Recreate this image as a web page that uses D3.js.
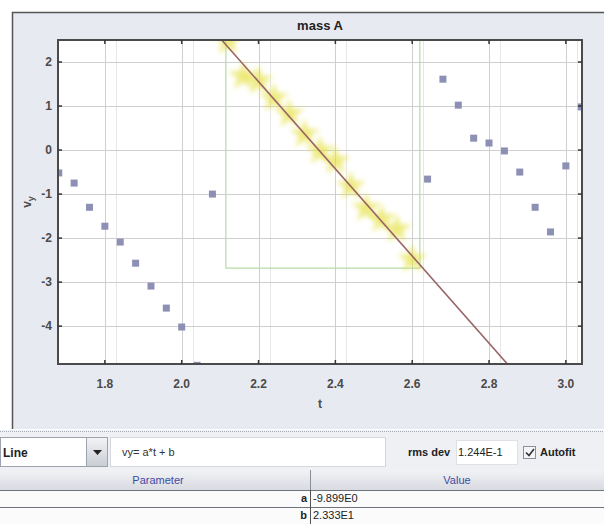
<!DOCTYPE html>
<html>
<head>
<meta charset="utf-8">
<script src="https://cdn.jsdelivr.net/npm/d3@7"></script>
<style>
  body { margin: 0; background: #fff; }
  svg { display: block; font-family: "Liberation Sans", Arial, sans-serif; }
</style>
</head>
<body>
<svg id="chart" width="604" height="524"></svg>
<script>
// points outside the fit window (left and right of it)
var tLeft  = [1.68, 1.72, 1.76, 1.80, 1.84, 1.88, 1.92, 1.96, 2.00, 2.04, 2.08];
var vyLeft = [-0.52, -0.75, -1.30, -1.73, -2.09, -2.57, -3.09, -3.59, -4.02, -4.89, -1.00];
var tRight  = [2.64, 2.68, 2.72, 2.76, 2.80, 2.84, 2.88, 2.92, 2.96, 3.00, 3.04];
var vyRight = [-0.66, 1.61, 1.02, 0.27, 0.16, -0.02, -0.50, -1.30, -1.86, -0.36, 0.98];
// points used in the fit
var tFit  = [2.12, 2.16, 2.20, 2.24, 2.28, 2.32, 2.36, 2.40, 2.44, 2.48, 2.52, 2.56, 2.60];
var vyFit = [2.48, 1.68, 1.57, 1.18, 0.82, 0.36, -0.02, -0.25, -0.82, -1.32, -1.57, -1.80, -2.48];
// selection box
var selT  = [2.115, 2.62];
var selVy = [-2.68, 2.5];
// fit result
var fitA = -9.899, fitB = 23.33;
var rmsText = "1.244E-1";
var paramNames  = ["a", "b"];
var paramValues = ["-9.899E0", "2.333E1"];

var xTicks = [1.8, 2.0, 2.2, 2.4, 2.6, 2.8, 3.0];
var yTicks = [-4, -3, -2, -1, 0, 1, 2];
var xDomain = [1.678, 3.042];
var yDomain = [-4.86, 2.5];

var plot = {left: 58, top: 40, right: 582, bottom: 364};

var svg = d3.select("#chart");
var defs = svg.append("defs");

defs.append("clipPath").attr("id", "clip")
    .append("rect")
    .attr("x", plot.left).attr("y", plot.top)
    .attr("width", plot.right - plot.left).attr("height", plot.bottom - plot.top);

defs.append("filter").attr("id", "blur").attr("x", "-50%").attr("y", "-50%").attr("width", "200%").attr("height", "200%")
    .append("feGaussianBlur").attr("stdDeviation", 2.8);
defs.append("filter").attr("id", "soft")
    .append("feGaussianBlur").attr("stdDeviation", 0.6);

var grad = defs.append("linearGradient").attr("id", "btn").attr("x1", 0).attr("y1", 0).attr("x2", 0).attr("y2", 1);
grad.append("stop").attr("offset", "0%").attr("stop-color", "#f4f4f6");
grad.append("stop").attr("offset", "100%").attr("stop-color", "#c9ccd4");

var x = d3.scaleLinear().domain(xDomain).range([plot.left, plot.right]);
var y = d3.scaleLinear().domain(yDomain).range([plot.bottom, plot.top]);

// outer panel
svg.append("rect")
    .attr("x", 12).attr("y", 12).attr("width", 592).attr("height", 417)
    .attr("fill", "#e8eaf1");
svg.append("path")
    .attr("d", "M12.5,429V12.5H604")
    .attr("fill", "none").attr("stroke", "#555").attr("stroke-width", 1.5);

svg.append("text")
    .attr("x", (plot.left + plot.right) / 2).attr("y", 30)
    .attr("text-anchor", "middle")
    .attr("font-size", "13px").attr("font-weight", "bold").attr("fill", "#222")
    .text("mass A");

// plot background
svg.append("rect")
    .attr("x", plot.left).attr("y", plot.top)
    .attr("width", plot.right - plot.left).attr("height", plot.bottom - plot.top)
    .attr("fill", "#fff");

var g = svg.append("g").attr("clip-path", "url(#clip)");

// grid (with the faint ghost lines the screenshot shows next to each vertical one)
g.selectAll(".ghost").data(xTicks).enter().append("line")
    .attr("x1", function(d) { return Math.round(x(d)) + 11.5; })
    .attr("x2", function(d) { return Math.round(x(d)) + 11.5; })
    .attr("y1", plot.top).attr("y2", plot.bottom)
    .attr("stroke", "#e6e6e8");
g.selectAll(".gx").data(xTicks).enter().append("line")
    .attr("x1", function(d) { return Math.round(x(d)) + 0.5; })
    .attr("x2", function(d) { return Math.round(x(d)) + 0.5; })
    .attr("y1", plot.top).attr("y2", plot.bottom)
    .attr("stroke", "#cfcfd2");
g.selectAll(".gy").data(yTicks).enter().append("line")
    .attr("y1", function(d) { return Math.round(y(d)) + 0.5; })
    .attr("y2", function(d) { return Math.round(y(d)) + 0.5; })
    .attr("x1", plot.left).attr("x2", plot.right)
    .attr("stroke", "#cfcfd2");

// selection box
g.append("path")
    .attr("d", "M" + x(selT[0]) + "," + y(selVy[1]) + "V" + y(selVy[0]) + "H" + x(selT[1]) + "V" + y(selVy[1]))
    .attr("fill", "none").attr("stroke", "#b5dca8").attr("stroke-width", 1.2);

// outside points
var outside = tLeft.map(function(t, i) { return [t, vyLeft[i]]; })
    .concat(tRight.map(function(t, i) { return [t, vyRight[i]]; }));
g.selectAll(".pt").data(outside).enter().append("rect")
    .attr("x", function(d) { return x(d[0]) - 3.5; })
    .attr("y", function(d) { return y(d[1]) - 3.5; })
    .attr("width", 7).attr("height", 7)
    .attr("fill", "#8d90b4")
    .attr("filter", "url(#soft)");

// fitted points: blurry yellow stars
var star = d3.symbol().type(d3.symbolStar).size(280);
g.selectAll(".fit").data(tFit).enter().append("path")
    .attr("d", star)
    .attr("transform", function(d, i) { return "translate(" + x(d) + "," + y(vyFit[i]) + ")"; })
    .attr("fill", "#e4e03c").attr("opacity", 0.65)
    .attr("filter", "url(#blur)");

// fit line vy = a*t + b
g.append("line")
    .attr("x1", x(xDomain[0])).attr("y1", y(fitA * xDomain[0] + fitB))
    .attr("x2", x(xDomain[1])).attr("y2", y(fitA * xDomain[1] + fitB))
    .attr("stroke", "#9a6466").attr("stroke-width", 1.6);

// frame + inner ticks on all sides
svg.append("rect")
    .attr("x", plot.left).attr("y", plot.top)
    .attr("width", plot.right - plot.left).attr("height", plot.bottom - plot.top)
    .attr("fill", "none").attr("stroke", "#4a4a4a").attr("stroke-width", 2);

var tk = svg.append("g").attr("stroke", "#333").attr("stroke-width", 1.5);
xTicks.forEach(function(d) {
    tk.append("line").attr("x1", x(d)).attr("x2", x(d)).attr("y1", plot.bottom).attr("y2", plot.bottom - 4);
    tk.append("line").attr("x1", x(d)).attr("x2", x(d)).attr("y1", plot.top).attr("y2", plot.top + 4);
});
yTicks.forEach(function(d) {
    tk.append("line").attr("y1", y(d)).attr("y2", y(d)).attr("x1", plot.left).attr("x2", plot.left + 4);
    tk.append("line").attr("y1", y(d)).attr("y2", y(d)).attr("x1", plot.right).attr("x2", plot.right - 4);
});

svg.selectAll(".xl").data(xTicks).enter().append("text")
    .attr("x", function(d) { return x(d); }).attr("y", 388)
    .attr("text-anchor", "middle")
    .attr("font-size", "12px").attr("font-weight", "bold").attr("fill", "#4a4a4a")
    .text(d3.format(".1f"));
svg.selectAll(".yl").data(yTicks).enter().append("text")
    .attr("x", 52).attr("y", function(d) { return y(d); }).attr("dy", "0.35em")
    .attr("text-anchor", "end")
    .attr("font-size", "12px").attr("font-weight", "bold").attr("fill", "#4a4a4a")
    .text(function(d) { return d; });

svg.append("text")
    .attr("x", (plot.left + plot.right) / 2).attr("y", 408)
    .attr("text-anchor", "middle")
    .attr("font-size", "12px").attr("font-weight", "bold").attr("fill", "#4a4a4a")
    .text("t");

var ylab = svg.append("text")
    .attr("transform", "translate(31," + (plot.top + plot.bottom) / 2 + ") rotate(-90)")
    .attr("text-anchor", "middle")
    .attr("font-size", "12px").attr("font-weight", "bold").attr("fill", "#4a4a4a");
ylab.append("tspan").text("v");
ylab.append("tspan").attr("font-size", "9px").attr("dy", 3).text("y");

// lower control strip
svg.append("rect").attr("x", 0).attr("y", 430).attr("width", 604).attr("height", 94).attr("fill", "#eef0f4");
svg.append("line")
    .attr("x1", 0).attr("x2", 604).attr("y1", 431.5).attr("y2", 431.5)
    .attr("stroke", "#a8acb8").attr("stroke-dasharray", "1,1");

var ctl = svg.append("g").attr("font-size", "11px").attr("fill", "#222");
ctl.append("rect").attr("x", 0.5).attr("y", 437.5).attr("width", 86).attr("height", 29)
    .attr("fill", "#fff").attr("stroke", "#9ca2b0");
ctl.append("text").attr("x", 3).attr("y", 457).attr("font-weight", "bold").attr("font-size", "12px").text("Line");
ctl.append("rect").attr("x", 86.5).attr("y", 437.5).attr("width", 21).attr("height", 29)
    .attr("fill", "url(#btn)").attr("stroke", "#9ca2b0");
ctl.append("path").attr("d", "M93,450h9l-4.5,5z").attr("fill", "#222");
ctl.append("rect").attr("x", 110.5).attr("y", 437.5).attr("width", 275).attr("height", 29)
    .attr("fill", "#fff").attr("stroke", "#d4d7de");
ctl.append("text").attr("x", 122).attr("y", 456).attr("fill", "#333").text("vy= a*t + b");
ctl.append("text").attr("x", 408).attr("y", 456).attr("font-weight", "bold").text("rms dev");
ctl.append("rect").attr("x", 456.5).attr("y", 440.5).attr("width", 61).attr("height", 24)
    .attr("fill", "#fff").attr("stroke", "#dde0e6");
ctl.append("text").attr("x", 458).attr("y", 456).text(rmsText);
ctl.append("rect").attr("x", 523.5).attr("y", 446.5).attr("width", 12).attr("height", 12)
    .attr("fill", "#f4f5f8").attr("stroke", "#8b909c");
ctl.append("path").attr("d", "M526,452.5l3,3l5,-6.5").attr("fill", "none").attr("stroke", "#333").attr("stroke-width", 1.6);
ctl.append("text").attr("x", 540).attr("y", 456).attr("font-weight", "bold").text("Autofit");

// parameter table
var tb = svg.append("g").attr("font-size", "11px");
tb.append("rect").attr("x", 0).attr("y", 470).attr("width", 604).attr("height", 20).attr("fill", "url(#btn)").attr("opacity", 0.6);
tb.append("line").attr("x1", 310.5).attr("x2", 310.5).attr("y1", 470).attr("y2", 524).attr("stroke", "#8a8e98");
tb.append("text").attr("x", 158).attr("y", 484).attr("text-anchor", "middle").attr("fill", "#3c4ba6").text("Parameter");
tb.append("text").attr("x", 457).attr("y", 484).attr("text-anchor", "middle").attr("fill", "#3c4ba6").text("Value");

var rowY = d3.scaleBand().domain(paramNames).range([490, 524]);
paramNames.forEach(function(p, i) {
    var ry = rowY(p);
    tb.append("rect").attr("x", 0).attr("y", ry).attr("width", 604).attr("height", rowY.bandwidth()).attr("fill", "#fbfbfc");
    tb.append("line").attr("x1", 0).attr("x2", 604).attr("y1", ry + 0.5).attr("y2", ry + 0.5).attr("stroke", "#6f737c");
    tb.append("text").attr("x", 307).attr("y", ry + 12).attr("text-anchor", "end").attr("font-weight", "bold").attr("fill", "#222").text(p);
    tb.append("text").attr("x", 313).attr("y", ry + 12).attr("fill", "#222").text(paramValues[i]);
});
tb.append("line").attr("x1", 310.5).attr("x2", 310.5).attr("y1", 490).attr("y2", 524).attr("stroke", "#555");
</script>
</body>
</html>
